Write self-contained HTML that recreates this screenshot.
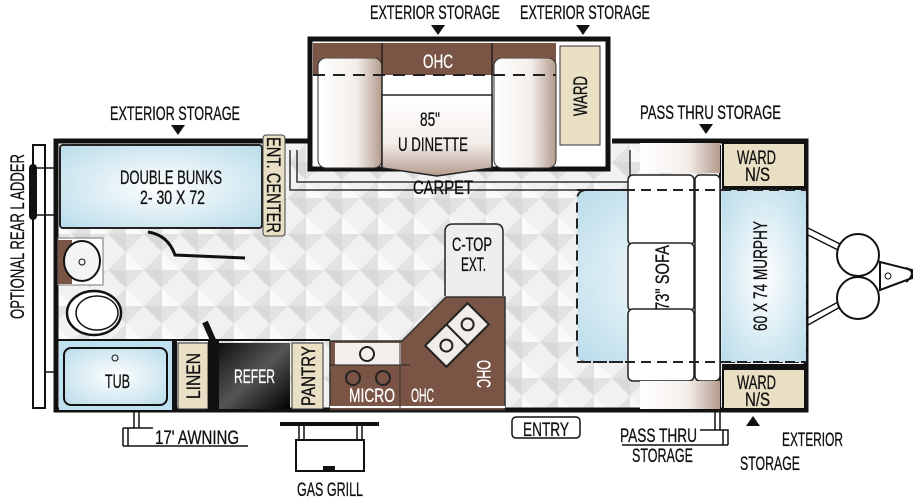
<!DOCTYPE html>
<html><head><meta charset="utf-8"><style>
html,body{margin:0;padding:0;background:#fff;width:920px;height:503px;overflow:hidden}
svg{display:block}
text{font-family:"Liberation Sans Narrow","Liberation Sans",sans-serif;fill:#111;stroke:currentColor;stroke-width:0.3}
</style></head><body>
<svg width="920" height="503" viewBox="0 0 920 503" xmlns="http://www.w3.org/2000/svg">
<defs>
<pattern id="dia" width="36" height="36" patternUnits="userSpaceOnUse">
<rect width="36" height="36" fill="#f1f1f1"/>
<polygon points="18,0 36,18 18,36 0,18" fill="#e2e2e2"/>
<polygon points="18,0 36,18 18,18" fill="#fafafa"/>
<polygon points="0,18 18,36 18,18" fill="#d9d9d9"/>
</pattern>
<radialGradient id="blue" cx="50%" cy="50%" r="70%"><stop offset="0" stop-color="#ffffff"/><stop offset="1" stop-color="#b9dcea"/></radialGradient>
<linearGradient id="fridge" x1="0" y1="0" x2="1" y2="1"><stop offset="0" stop-color="#111"/><stop offset="0.5" stop-color="#555"/><stop offset="1" stop-color="#000"/></linearGradient>
<linearGradient id="cush" x1="0" y1="0" x2="1" y2="0"><stop offset="0" stop-color="#fff"/><stop offset="0.6" stop-color="#f3eeea"/><stop offset="1" stop-color="#b39b8c"/></linearGradient>
<linearGradient id="cushv" x1="0" y1="0" x2="0" y2="1"><stop offset="0" stop-color="#fff"/><stop offset="0.6" stop-color="#f3eeea"/><stop offset="1" stop-color="#b39b8c"/></linearGradient>
</defs>

<rect x="58" y="143" width="748" height="267" fill="url(#dia)"/>

<rect x="33" y="145" width="12" height="263" fill="#fff" stroke="#111" stroke-width="2"/>
<rect x="29" y="164" width="8" height="56" rx="4" fill="#111"/>
<line x1="37" y1="168" x2="55" y2="168" stroke="#111" stroke-width="1.5"/>
<line x1="37" y1="215" x2="55" y2="215" stroke="#111" stroke-width="1.5"/>
<line x1="45" y1="372" x2="55" y2="372" stroke="#111" stroke-width="1.5"/>

<rect x="310" y="39" width="298" height="130" fill="#fff" stroke="#111" stroke-width="5"/>
<rect x="313" y="43" width="243" height="32" fill="#7a5444"/>
<rect x="318" y="58" width="64" height="110" rx="8" fill="url(#cush)" stroke="#333"/>
<rect x="494" y="58" width="62" height="110" rx="8" fill="url(#cush)" stroke="#333"/>
<rect x="313" y="43" width="243" height="15" fill="#7a5444"/>
<rect x="383" y="75" width="108" height="20" fill="#fff"/>
<line x1="313" y1="75" x2="556" y2="75" stroke="#222" stroke-width="2" stroke-dasharray="12,8"/>
<line x1="382" y1="43" x2="382" y2="168" stroke="#222" stroke-width="1.5"/>
<line x1="492" y1="43" x2="492" y2="168" stroke="#222" stroke-width="1.5"/>
<path d="M382,95 L492,95 L492,168 L437,176 L382,168 Z" fill="url(#cushv)" stroke="#222" stroke-width="1.5"/>
<rect x="560" y="46" width="40" height="99" fill="#e8dfc4" stroke="#333"/>
<path d="M297,150 L297,182 L630,182 L630,150" fill="none" stroke="#333" stroke-width="1.5"/>
<path d="M290,150 L290,190 L640,190" fill="none" stroke="#333" stroke-width="1.5"/>

<path d="M308,141 L56,141 L56,410 L806,410 L806,141 L612,141" fill="none" stroke="#111" stroke-width="5"/>

<rect x="60" y="145" width="202" height="83" rx="3" fill="url(#blue)" stroke="#222" stroke-width="2"/>
<rect x="263" y="135" width="22" height="101" rx="3" fill="#e8dfc4" stroke="#444"/>
<path d="M148,232 Q168,235 175,255 L245,258" fill="none" stroke="#111" stroke-width="3"/>

<rect x="58" y="238" width="45" height="47" fill="#fff" stroke="#777"/>
<rect x="58" y="240" width="14" height="44" fill="#7a5444"/>
<ellipse cx="82" cy="261" rx="18" ry="20" fill="#f4f4f4" stroke="#111" stroke-width="2"/>
<circle cx="82" cy="262" r="3" fill="none" stroke="#111"/>
<ellipse cx="94" cy="313" rx="27" ry="22" fill="#fff" stroke="#111" stroke-width="2.5"/>
<ellipse cx="97" cy="313" rx="21" ry="17" fill="none" stroke="#111" stroke-width="1.5"/>
<line x1="58" y1="340" x2="330" y2="340" stroke="#111" stroke-width="2"/>
<rect x="59" y="341" width="113" height="69" fill="#bfe0ee"/>
<rect x="64" y="348" width="103" height="57" rx="7" fill="url(#blue)" stroke="#111" stroke-width="2"/>
<circle cx="115" cy="358" r="3" fill="none" stroke="#111"/>
<rect x="172" y="341" width="5" height="69" fill="#111"/>
<rect x="178" y="343" width="30" height="66" fill="#e8dfc4" stroke="#333"/>
<rect x="208" y="341" width="11" height="69" fill="#111"/>
<path d="M205,322 L213,340" stroke="#111" stroke-width="6"/>
<rect x="219" y="343" width="71" height="66" fill="url(#fridge)"/>
<rect x="292" y="343" width="31" height="66" fill="#e8dfc4" stroke="#333"/>

<polygon points="330,341 402,341 446,297 505,297 505,410 330,410" fill="#7a5444" stroke="#333" stroke-width="1.5"/>
<rect x="335" y="343" width="66" height="22" fill="#f2efec"/>
<line x1="330" y1="365" x2="410" y2="365" stroke="#222"/>
<line x1="330" y1="407" x2="505" y2="407" stroke="#fff" stroke-width="2"/>
<line x1="400" y1="341" x2="400" y2="410" stroke="#333"/>
<circle cx="367" cy="354" r="7" fill="none" stroke="#222" stroke-width="2"/>
<circle cx="353" cy="378" r="7" fill="none" stroke="#222" stroke-width="2"/>
<circle cx="383" cy="378" r="7" fill="none" stroke="#222" stroke-width="2"/>
<g transform="rotate(-45 457 335)">
<rect x="427" y="320" width="60" height="30" fill="#f0ecea" stroke="#222" stroke-width="2"/>
<line x1="457" y1="320" x2="457" y2="350" stroke="#222" stroke-width="2"/>
<circle cx="442" cy="335" r="6" fill="none" stroke="#222" stroke-width="2"/>
<circle cx="472" cy="335" r="6" fill="none" stroke="#222" stroke-width="2"/>
</g>
<path d="M445,296 L445,232 Q445,224 453,224 L496,224 Q503,224 503,232 L503,296" fill="#eee" stroke="#222" stroke-width="1.5"/>

<path d="M585,190 L806,190 L806,362 L585,362 Q577,362 577,352 L577,200 Q577,190 587,190 Z" fill="url(#blue)" stroke="#222" stroke-width="2" stroke-dasharray="10,6"/>
<rect x="722" y="190" width="84" height="172" fill="url(#blue)"/>
<line x1="720" y1="145" x2="720" y2="410" stroke="#111" stroke-width="2"/>
<rect x="628" y="175" width="66" height="70" rx="5" fill="#fff" stroke="#222" stroke-width="1.5"/>
<rect x="628" y="243" width="66" height="68" rx="5" fill="#fff" stroke="#222" stroke-width="1.5"/>
<rect x="628" y="309" width="66" height="72" rx="5" fill="#fff" stroke="#222" stroke-width="1.5"/>
<rect x="695" y="175" width="25" height="206" rx="5" fill="#fff" stroke="#222" stroke-width="1.5"/>
<rect x="640" y="143" width="80" height="30" fill="url(#cush)"/>
<rect x="640" y="381" width="80" height="28" fill="url(#cush)"/>
<rect x="722" y="143" width="84" height="47" fill="#111"/>
<rect x="724" y="144" width="80" height="42" fill="#e8dfc4"/>
<rect x="722" y="364" width="84" height="46" fill="#111"/>
<rect x="724" y="370" width="80" height="38" fill="#e8dfc4"/>
<path d="M577,190 L806,190 M577,362 L806,362" stroke="#222" stroke-width="2" stroke-dasharray="10,6"/>

<path d="M808,228 L842,245 M808,325 L842,306 M808,235 L842,252 M808,318 L842,300" stroke="#111" stroke-width="1.5"/>
<circle cx="858" cy="255" r="21" fill="#fff" stroke="#111" stroke-width="2"/>
<circle cx="858" cy="298" r="21" fill="#fff" stroke="#111" stroke-width="2"/>
<polygon points="880,262 912,270 912,278 880,290" fill="#fff" stroke="#111" stroke-width="2"/>
<circle cx="888" cy="276" r="3" fill="none" stroke="#111"/>
<path d="M906,268 Q918,272 906,282" fill="none" stroke="#111" stroke-width="2"/>

<path d="M134,412 L134,428 M139,412 L139,428 M123,428 L153,428 M123,428 L123,446 M128,428 L128,446 M123,446 L248,446" stroke="#111" stroke-width="1.5" fill="none"/>
<rect x="280" y="422" width="99" height="4" fill="#111"/>
<path d="M299,426 L299,440 M304,426 L304,440 M357,426 L357,440 M362,426 L362,440" stroke="#111" stroke-width="1.5"/>
<rect x="296" y="440" width="68" height="31" fill="#fff" stroke="#111" stroke-width="2"/>
<rect x="323" y="466" width="12" height="4" fill="#111"/>
<rect x="512" y="417" width="68" height="21" rx="4" fill="#fff" stroke="#111" stroke-width="1.5"/>
<path d="M715,411 L715,430 M720,411 L720,430 M700,430 L728,430 L728,445 M723,430 L723,445 M622,445 L728,445" stroke="#111" stroke-width="1.5" fill="none"/>

<polygon points="431,25 445,25 438,35" fill="#111"/>
<polygon points="576,25 590,25 583,35" fill="#111"/>
<polygon points="171,125 185,125 178,135" fill="#111"/>
<polygon points="699,124 713,124 706,134" fill="#111"/>
<polygon points="746,426 760,426 753,416" fill="#111"/>

<g font-size="19" style="color:#111">
<text x="370" y="19" textLength="130" lengthAdjust="spacingAndGlyphs">EXTERIOR  STORAGE</text>
<text x="520" y="19" textLength="130" lengthAdjust="spacingAndGlyphs">EXTERIOR  STORAGE</text>
<text x="110" y="120" textLength="130" lengthAdjust="spacingAndGlyphs">EXTERIOR  STORAGE</text>
<text x="640" y="119" textLength="141" lengthAdjust="spacingAndGlyphs">PASS THRU  STORAGE</text>
<text x="423" y="68" style="fill:#fff;color:#fff" textLength="30" lengthAdjust="spacingAndGlyphs">OHC</text>
<text x="420" y="126" textLength="20" lengthAdjust="spacingAndGlyphs">85"</text>
<text x="398" y="151" textLength="70" lengthAdjust="spacingAndGlyphs">U DINETTE</text>
<text x="413" y="194" textLength="60" lengthAdjust="spacingAndGlyphs">CARPET</text>
<text x="560" y="96" transform="rotate(-90 580 96)" dy="7" textLength="40" lengthAdjust="spacingAndGlyphs">WARD</text>
<text x="120" y="184" textLength="102" lengthAdjust="spacingAndGlyphs">DOUBLE BUNKS</text>
<text x="140" y="204" textLength="65" lengthAdjust="spacingAndGlyphs">2- 30 X 72</text>
<text x="226" y="185" transform="rotate(90 274 185)" dy="7" textLength="96" lengthAdjust="spacingAndGlyphs">ENT. CENTER</text>
<text x="-65" y="237" transform="rotate(-90 17 237)" dy="7" textLength="165" lengthAdjust="spacingAndGlyphs">OPTIONAL  REAR L ADDER</text>
<text x="105" y="388" textLength="25" lengthAdjust="spacingAndGlyphs">TUB</text>
<text x="170" y="376" transform="rotate(-90 193 376)" dy="7" textLength="46" lengthAdjust="spacingAndGlyphs">LINEN</text>
<text x="234" y="383" style="fill:#fff;color:#fff" textLength="41" lengthAdjust="spacingAndGlyphs">REFER</text>
<text x="278" y="376" transform="rotate(-90 308 376)" dy="7" textLength="60" lengthAdjust="spacingAndGlyphs">PANTRY</text>
<text x="349" y="402" style="fill:#fff;color:#fff" textLength="46" lengthAdjust="spacingAndGlyphs">MICRO</text>
<text x="411" y="402" style="fill:#fff;color:#fff" textLength="23" lengthAdjust="spacingAndGlyphs">OHC</text>
<text x="470" y="374" style="fill:#fff;color:#fff" transform="rotate(90 484 374)" dy="7" textLength="28" lengthAdjust="spacingAndGlyphs">OHC</text>
<text x="452" y="251" textLength="40" lengthAdjust="spacingAndGlyphs">C-TOP</text>
<text x="461" y="271" textLength="25" lengthAdjust="spacingAndGlyphs">EXT.</text>
<text x="630" y="278" transform="rotate(-90 662 278)" dy="7" textLength="65" lengthAdjust="spacingAndGlyphs">73" SOFA</text>
<text x="705" y="276" transform="rotate(-90 760 276)" dy="7" textLength="110" lengthAdjust="spacingAndGlyphs">60 X 74 MURPHY</text>
<text x="737" y="164" textLength="39" lengthAdjust="spacingAndGlyphs">WARD</text>
<text x="745" y="181" textLength="25" lengthAdjust="spacingAndGlyphs">N/S</text>
<text x="737" y="389" textLength="39" lengthAdjust="spacingAndGlyphs">WARD</text>
<text x="745" y="406" textLength="25" lengthAdjust="spacingAndGlyphs">N/S</text>
<text x="155" y="444" textLength="84" lengthAdjust="spacingAndGlyphs">17'  AWNING</text>
<text x="297" y="496" textLength="66" lengthAdjust="spacingAndGlyphs">GAS GRILL</text>
<text x="523" y="436" textLength="46" lengthAdjust="spacingAndGlyphs">ENTRY</text>
<text x="620" y="442" textLength="77" lengthAdjust="spacingAndGlyphs">PASS THRU</text>
<text x="632" y="462" textLength="61" lengthAdjust="spacingAndGlyphs">STORAGE</text>
<text x="782" y="446" textLength="61" lengthAdjust="spacingAndGlyphs">EXTERIOR</text>
<text x="740" y="470" textLength="60" lengthAdjust="spacingAndGlyphs">STORAGE</text>
</g>
</svg>
</body></html>
